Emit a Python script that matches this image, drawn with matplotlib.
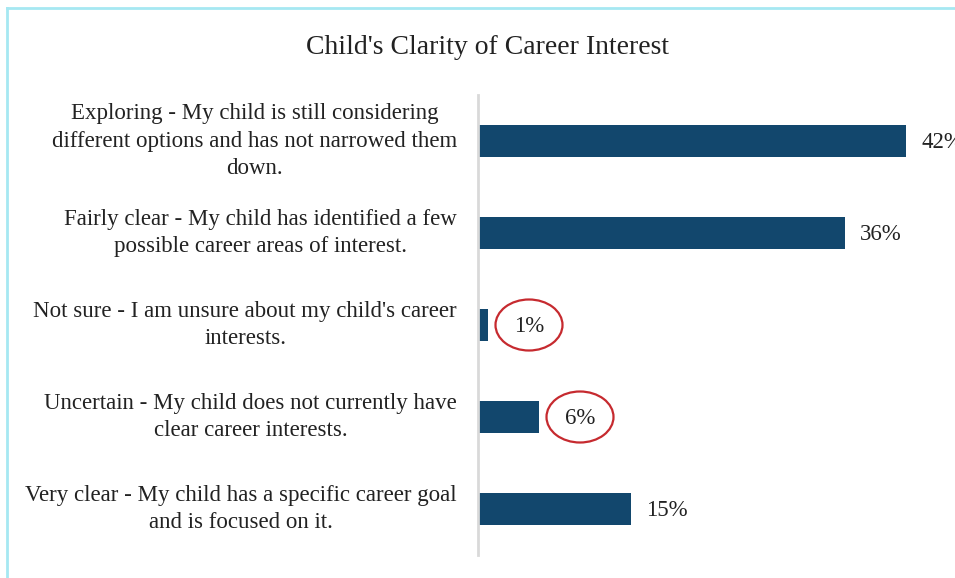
import matplotlib.pyplot as plt
from matplotlib.patches import Ellipse
from matplotlib.lines import Line2D

plt.rcParams['font.family'] = ['Liberation Serif', 'DejaVu Serif']

# categories from top to bottom
labels = [
    "Exploring - My child is still considering\ndifferent options and has not narrowed them\ndown.",
    "Fairly clear - My child has identified a few\npossible career areas of interest.",
    "Not sure - I am unsure about my child's career\ninterests.",
    "Uncertain - My child does not currently have\nclear career interests.",
    "Very clear - My child has a specific career goal\nand is focused on it.",
]
values = [42, 36, 1, 6, 15]
circled = [False, False, True, True, False]

W, H = 955, 578
PX = 10.2  # pixels per percent
fig = plt.figure(figsize=(W / 100, H / 100), dpi=100)
ax = fig.add_axes([478 / W, 23 / H, 470 / W, 460 / H])

ypos = list(range(len(values)))[::-1]
ax.barh(ypos, values, height=0.35, color='#12476d')
ax.set_ylim(-0.5, 4.5)
ax.set_xlim(0, 470 / PX)

for y, v, c in zip(ypos, values, circled):
    if c:
        # highlighted labels sit a bit further out, inside a red ring
        cx = v + 4.0
        ax.annotate(f"{v}%", xy=(cx, y), xytext=(0, -2), textcoords='offset pixels',
                    ha='center', va='center', fontsize=16.5, color='#222222')
        ax.add_patch(Ellipse((cx, y), 67 / PX, 51 / 92, fill=False,
                             edgecolor='#c62a2f', lw=1.6))
    else:
        ax.annotate(f"{v}%", xy=(v, y), xytext=(15, -2), textcoords='offset pixels',
                    ha='left', va='center', fontsize=16.5, color='#222222')

for y, lab in zip(ypos, labels):
    ax.annotate(lab, xy=(0, y), xycoords='data', xytext=(-21, 0), textcoords='offset pixels',
                ha='right', va='center', multialignment='center', fontsize=16.5,
                color='#222222', linespacing=1.38)

for s in ['top', 'right', 'bottom']:
    ax.spines[s].set_visible(False)
ax.spines['left'].set_color('#d9d9d9')
ax.spines['left'].set_linewidth(2)
ax.set_xticks([])
ax.set_yticks([])

fig.text(487 / W, 1 - 47 / H, "Child's Clarity of Career Interest", ha='center', va='center',
         fontsize=20, color='#222222')

# chart frame
fig.add_artist(Line2D([7 / W, 1], [1 - 8 / H] * 2, color='#a6e8f2', lw=2))
fig.add_artist(Line2D([7 / W] * 2, [0, 1 - 8 / H], color='#a6e8f2', lw=2))

fig.savefig('out.png', dpi=100)
